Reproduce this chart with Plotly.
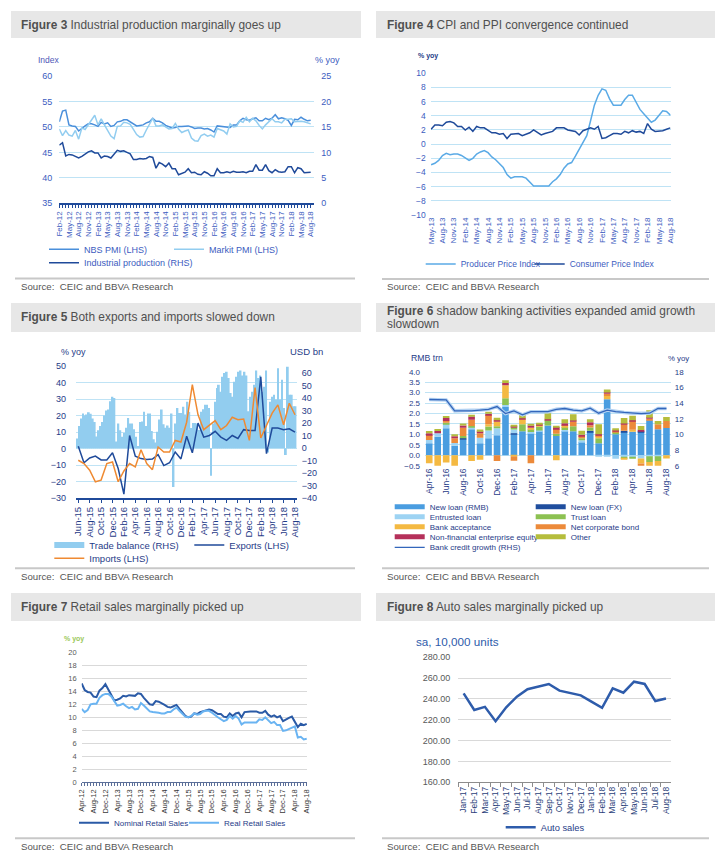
import plotly.graph_objects as go
import pandas as pd

W, H = 728, 862
OFF = 8  # the page body adds an 8px margin; compensate so the photo lines up

# ---------------- data ----------------
F3_MONTHS = pd.date_range('2012-02-01', periods=79, freq='MS').strftime('%b-%y').tolist()
F3_NBS = [51.0, 53.1, 53.3, 50.4, 50.2, 50.1, 49.2, 49.8, 50.2, 50.6, 50.6,
          50.4, 50.1, 50.9, 50.6, 50.8, 50.1, 50.3, 51.0, 51.1, 51.4, 51.4, 51.0,
          50.5, 50.2, 50.3, 50.4, 50.8, 51.0, 51.7, 51.1, 51.1, 50.8, 50.3, 50.1,
          49.8, 49.9, 50.1, 50.1, 50.2, 50.2, 50.0, 49.7, 49.8, 49.8, 49.6, 49.7,
          49.4, 49.0, 50.2, 50.1, 50.1, 50.0, 49.9, 50.4, 50.4, 51.2, 51.7, 51.4,
          51.3, 51.6, 51.8, 51.2, 51.2, 51.7, 51.4, 51.7, 52.4, 51.6, 51.8, 51.6,
          51.3, 50.3, 51.5, 51.4, 51.9, 51.5, 51.2, 51.3]
F3_MARKIT = [49.6, 48.3, 49.3, 48.4, 48.2, 49.3, 47.6, 49.8, 49.5, 50.5, 51.5,
             52.3, 50.4, 51.6, 50.4, 49.2, 48.2, 47.7, 50.1, 50.2, 50.9, 50.8, 50.5,
             49.5, 48.5, 48.0, 48.1, 49.4, 50.7, 51.7, 50.2, 50.2, 50.4, 50.0, 49.6,
             49.7, 50.7, 49.6, 48.9, 49.2, 49.4, 47.8, 47.3, 47.2, 48.3, 48.6, 48.2,
             48.4, 48.0, 49.7, 49.4, 49.2, 48.6, 50.6, 50.0, 50.1, 51.2, 50.9, 51.9,
             51.0, 51.7, 51.2, 50.3, 49.6, 50.4, 51.1, 51.6, 51.0, 51.0, 50.8, 51.5,
             51.5, 51.6, 51.0, 51.1, 51.1, 51.0, 50.8, 50.6]
F3_IP = [11.4, 11.9, 9.3, 9.6, 9.5, 9.2, 8.9, 9.2, 9.6, 10.1, 10.3,
         9.9, 9.9, 8.9, 9.3, 9.2, 8.9, 9.7, 10.4, 10.2, 10.3, 10.0, 9.7,
         8.6, 8.6, 8.8, 8.7, 8.8, 9.2, 9.0, 6.9, 8.0, 7.7, 7.2, 7.9,
         6.8, 6.8, 5.6, 5.9, 6.1, 6.8, 6.0, 6.1, 5.7, 5.6, 6.2, 5.9,
         5.4, 5.4, 6.8, 6.0, 6.0, 6.2, 6.0, 6.3, 6.1, 6.1, 6.2, 6.0,
         6.3, 6.3, 7.6, 6.5, 6.5, 7.6, 6.4, 6.0, 6.6, 6.2, 6.1, 6.2,
         7.2, 7.2, 6.0, 7.0, 6.8, 6.0, 6.0, 6.1]
F3_TICKS = F3_MONTHS[::3]

F4_MONTHS = pd.date_range('2013-05-01', periods=64, freq='MS').strftime('%b-%y').tolist()
F4_PPI = [-2.9, -2.7, -2.3, -1.6, -1.3, -1.5, -1.4, -1.4,
          -1.6, -2.0, -2.3, -2.0, -1.4, -1.1, -0.9, -1.2, -1.8, -2.2, -2.7, -3.3,
          -4.3, -4.8, -4.6, -4.6, -4.6, -4.8, -5.4, -5.9, -5.9, -5.9, -5.9, -5.9,
          -5.3, -4.9, -4.3, -3.4, -2.8, -2.6, -1.7, -0.8, 0.1, 1.2, 3.3, 5.5,
          6.9, 7.8, 7.6, 6.4, 5.5, 5.5, 5.5, 6.3, 6.9, 6.9, 5.8, 4.9,
          4.3, 3.7, 3.1, 3.4, 4.1, 4.7, 4.6, 4.1]
F4_CPI = [2.1, 2.7, 2.7, 2.6, 3.1, 3.2, 3.0, 2.5,
          2.5, 2.0, 2.4, 1.8, 2.5, 2.3, 2.3, 2.0, 1.6, 1.6, 1.4, 1.5,
          0.8, 1.4, 1.4, 1.5, 1.2, 1.4, 1.6, 2.0, 1.6, 1.3, 1.5, 1.6,
          1.8, 2.3, 2.3, 2.3, 2.0, 1.9, 1.8, 1.3, 1.9, 2.1, 2.3, 2.1,
          2.5, 0.8, 0.9, 1.2, 1.5, 1.5, 1.4, 1.8, 1.6, 1.9, 1.7, 1.8,
          1.5, 2.9, 2.1, 1.8, 1.8, 1.9, 2.1, 2.3]
F4_TICKS = F4_MONTHS[::3]

F5_MONTHS = pd.date_range('2015-06-01', periods=39, freq='MS').strftime('%b-%y').tolist()
F5_EXPORTS = [1.5, -8.5, -5.6, -4.5, -6.8, -6.8, -2.5, -12.0, -27.5, 8.0,
              -4.5, -6.0, -6.5, -6.3, -3.6, -10.2, -8.5, -2.0, -6.2, 7.5,
              -2.5, 15.5, 7.0, 8.0, 10.5, 7.0, 5.0, 8.0, 6.2, 11.5,
              11.0, 11.0, 43.5, -3.0, 12.5, 12.5, 11.5, 12.0, 10.0]
F5_IMPORTS = [-7.0, -9.0, -13.0, -20.0, -19.0, -9.0, -8.0, -20.0, -13.5, -9.0,
              -11.0, -0.6, -9.0, -12.7, 1.0, -2.0, -2.0, 5.0, 4.0, 16.0,
              38.7, 20.5, 11.5, 14.5, 17.0, 11.5, 14.0, 19.0, 17.5, 17.9,
              5.0, 37.0, 6.5, 14.0, 21.5, 26.5, 14.5, 27.5, 20.5]
F5_TRADE_BAL = [7.6, 17.6, 23.7, 27.6, 26.0, 26.8, 28.7, 27.4, 23.7, 20.8,
                9.2, 14.2, 17.6, 20.8, 26.0, 30.0, 30.8, 37.4, 41.0, 40.0,
                5.3, 19.7, 14.2, 9.0, 12.0, 16.3, 24.0, 19.7, 19.7, 15.0,
                9.0, 1.8, 20.8, 21.3, 29.0, 17.6, 27.6, 27.6, 13.7, 7.0,
                4.5, 13.0, 22.9, 30.8, 19.0, 16.3, 18.0, 16.3, 27.6, -31.0,
                19.7, 32.0, 28.0, 28.0, 33.0, 26.8, 37.0, 29.0,
                16.0, 20.0, 20.0, 19.7, 14.5, 29.0, 31.0, 34.5, 34.5, 32.0,
                -22.0, 19.7, 37.0, 48.0, 50.5, 45.0, 57.0, 60.0, 61.0, 56.0,
                44.0, 41.0, 53.0, 57.0, 61.0, 62.0, 58.0, 61.0, 58.0, 29.5,
                41.0, 45.0, 50.5, 62.0, 56.0, 58.0, 45.0, 49.0, 62.0, -3.4,
                37.0, 41.0, 42.6, 38.7, 63.7, 38.7, 54.5, 32.0, -5.5, 65.0,
                42.6, 42.6, 33.4, 33.4]
F5_TICKS = F5_MONTHS[::2]

F6_MONTHS = pd.date_range('2016-04-01', periods=29, freq='MS').strftime('%b-%y').tolist()
F6_NEW_LOAN_RMB = [0.57, 0.89, 1.29, 0.45, 0.77, 1.25, 0.57, 0.81, 0.96, 2.31,
                   1.00, 1.15, 1.05, 1.15, 1.43, 0.92, 1.16, 1.15, 0.64, 1.12,
                   0.57, 2.68, 1.00, 1.12, 1.12, 1.12, 1.67, 1.24, 1.30]
F6_NEW_LOAN_FX = [0, 0, 0, 0, 0.05, 0, 0, 0, 0, 0,
                  0.05, 0, 0, 0, 0, 0, 0, 0, 0, 0.05,
                  0, 0, 0, 0.05, 0, 0.04, 0, 0, 0]
F6_ENTRUSTED = [0.16, 0.16, 0.22, 0.14, 0, 0.10, 0.27, 0.38, 0.33, 0.10,
                0.18, 0, 0.06, 0.03, 0, 0, 0.05, 0, 0.08, 0,
                -0.05, -0.05, -0.17, -0.08, -0.10, -0.16, -0.05, -0.05, 0]
F6_TRUST = [0, 0, 0.05, 0, 0.10, 0.05, 0, 0.19, 0.10, 0.32,
            0.10, 0.33, 0.13, 0.20, 0.24, 0.11, 0.14, 0.24, 0.10, 0.16,
            0.24, 0, 0.11, -0.04, -0.06, 0, -0.27, -0.22, 0]
F6_BANK_ACC = [-0.38, -0.51, -0.35, -0.51, 0, -0.27, -0.22, 0.10, 0.22, 0.62,
               -0.06, 0.24, 0.08, 0.06, 0, -0.24, 0.08, 0, 0, 0,
               0.11, 0.16, 0, -0.10, 0.10, -0.24, -0.24, -0.26, -0.15]
F6_CORP_BOND = [0.24, 0, 0.08, 0.22, 0.40, 0.30, 0.21, 0.45, -0.27, 0,
                -0.20, 0, -0.38, 0, 0, 0.24, 0.02, 0.22, 0.11, 0.11,
                0.05, 0.11, 0.03, 0.32, 0.43, -0.11, 0.08, 0.24, 0.34]
F6_EQUITY = [0.08, 0.11, 0.14, 0.10, 0.10, 0.15, 0.10, 0.06, 0.06, 0.11,
             0.08, 0.05, 0.10, 0.03, 0.05, 0.08, 0.08, 0.05, 0.05, 0.14,
             0.03, 0.06, 0.05, 0.03, 0.03, 0.05, 0.05, 0, 0]
F6_OTHER = [0.11, 0.10, 0.10, 0.10, 0.10, 0.07, 0.08, 0.06, 0.13, 0.13,
            0.05, 0.19, 0.06, 0.08, 0.29, 0.05, 0.19, 0.30, 0.19, 0.14,
            0.48, 0.14, 0.10, 0.26, 0.21, 0.19, 0.35, 0.16, 0.19]
F6_CREDIT_GROWTH = [14.45, 14.4, 14.4, 13.0, 13.0, 13.0, 13.1, 13.2, 13.55, 12.65,
                    13.0, 12.5, 12.9, 12.9, 12.9, 13.2, 13.3, 13.1, 13.0, 13.35,
                    12.7, 13.1, 12.9, 12.8, 12.7, 12.65, 12.7, 13.3, 13.3]
F6_TICKS = F6_MONTHS[::2]

F7_MONTHS = pd.date_range('2012-04-01', periods=77, freq='MS').strftime('%b-%y').tolist()
F7_NOMINAL = [15.2, 14.2, 13.9, 13.8, 13.2, 13.1, 14.1, 14.5, 15.1,
              14.2, 13.4, 12.6, 12.7, 12.9, 13.3, 13.2, 13.4, 13.3, 13.3, 13.7, 13.6,
              13.0, 12.5, 12.0, 11.9, 12.5, 12.4, 12.2, 11.9, 11.6, 11.5, 11.7, 11.9,
              11.3, 10.7, 10.2, 10.0, 10.1, 10.6, 10.5, 10.8, 10.9, 11.0, 11.2, 11.1,
              10.8, 10.5, 10.5, 10.1, 10.0, 10.6, 10.2, 10.6, 10.7, 10.0, 10.8, 10.9,
              10.9, 10.9, 10.9, 10.7, 10.7, 11.0, 10.4, 10.1, 10.3, 10.0, 10.2, 9.4,
              9.7, 9.9, 10.1, 9.4, 8.5, 9.0, 8.8, 9.0]
F7_REAL = [11.3, 10.8, 11.1, 12.0, 12.1, 12.1, 13.0, 13.4, 13.6,
           13.6, 13.2, 12.4, 11.8, 11.9, 12.1, 11.7, 11.4, 11.6, 11.2, 11.3, 12.2,
           11.8, 11.4, 10.9, 10.8, 10.8, 10.7, 10.6, 10.6, 10.8, 10.8, 11.2, 11.5,
           11.0, 10.5, 10.1, 10.0, 10.2, 10.6, 10.4, 10.5, 10.9, 11.0, 11.0, 10.7,
           10.3, 10.0, 9.7, 9.4, 9.6, 10.2, 9.8, 10.2, 9.8, 8.9, 9.2, 9.2,
           9.2, 9.2, 9.2, 9.7, 9.6, 10.0, 9.6, 9.1, 9.3, 8.8, 8.8, 7.9,
           8.0, 8.2, 8.5, 8.6, 6.9, 7.0, 6.6, 6.7]
F7_TICKS = F7_MONTHS[::4]

F8_MONTHS = pd.date_range('2017-01-01', periods=20, freq='MS').strftime('%b-%y').tolist()
F8_AUTO = [245.4, 229.4, 232.4, 218.6, 232.0, 242.2, 249.3, 251.8, 254.4, 248.0,
           245.4, 243.5, 237.4, 231.5, 250.2, 246.0, 256.6, 254.4, 238.0, 240.5]

# ---------------- style ----------------
FONT = 'Liberation Sans, Arial, sans-serif'
BLUE_TXT = '#3c5cc0'
NAVY_TXT = '#1f3c88'
GRAY_TXT = '#555555'
DARK = '#1f4a9a'
GRID_BLUE = '#bfe3f5'
GRID_GRAY = '#d9d9d9'


def px_x(a):
    return (a - OFF) / W


def px_y(a):
    return 1 - (a - OFF) / H


def dom_x(a, b):
    return [px_x(a), px_x(b)]


def dom_y(top, bottom):
    return [px_y(bottom), px_y(top)]


def zero_px(top, bottom, lo, hi):
    return bottom - (0 - lo) / (hi - lo) * (bottom - top)


fig = go.Figure()

# ---------- Figure 3 ----------
fig.add_trace(go.Scatter(x=F3_MONTHS, y=F3_NBS, mode='lines', name='NBS PMI (LHS)',
                         line=dict(color='#4a8fdb', width=1.5), xaxis='x', yaxis='y', legend='legend'))
fig.add_trace(go.Scatter(x=F3_MONTHS, y=F3_MARKIT, mode='lines', name='Markit PMI (LHS)',
                         line=dict(color='#92cdf0', width=1.5), xaxis='x', yaxis='y', legend='legend2'))
fig.add_trace(go.Scatter(x=F3_MONTHS, y=F3_IP, mode='lines', name='Industrial production (RHS)',
                         line=dict(color=DARK, width=1.5), xaxis='x', yaxis='y2', legend='legend3'))

# ---------- Figure 4 ----------
fig.add_trace(go.Scatter(x=F4_MONTHS, y=F4_PPI, mode='lines', name='Producer Price Index',
                         line=dict(color='#5aaae6', width=1.5), xaxis='x2', yaxis='y3', legend='legend4'))
fig.add_trace(go.Scatter(x=F4_MONTHS, y=F4_CPI, mode='lines', name='Consumer Price Index',
                         line=dict(color=DARK, width=1.5), xaxis='x2', yaxis='y3', legend='legend5'))

# ---------- Figure 5 ----------
F5_BAR_C = '#92cdef'
fig.add_trace(go.Bar(x=list(range(len(F5_TRADE_BAL))), y=F5_TRADE_BAL, width=0.9,
                     marker=dict(color=F5_BAR_C, line=dict(width=0)), showlegend=False,
                     name='Trade balance (RHS)', xaxis='x4', yaxis='y5'))
fig.add_trace(go.Scatter(x=[None], y=[None], mode='lines', name='Trade balance (RHS)',
                         line=dict(color=F5_BAR_C, width=6), xaxis='x4', yaxis='y5', legend='legend6'))
fig.add_trace(go.Scatter(x=F5_MONTHS, y=F5_EXPORTS, mode='lines', name='Exports (LHS)',
                         line=dict(color=DARK, width=1.5), xaxis='x5', yaxis='y6', legend='legend7'))
fig.add_trace(go.Scatter(x=F5_MONTHS, y=F5_IMPORTS, mode='lines', name='Imports (LHS)',
                         line=dict(color='#ef8a32', width=1.5), xaxis='x5', yaxis='y6', legend='legend8'))

# ---------- Figure 6 ----------
F6_PARTS = [
    ('New loan (RMB)', F6_NEW_LOAN_RMB, '#4a9de0', 'legend9'),
    ('New loan (FX)', F6_NEW_LOAN_FX, '#1f4e9e', 'legend10'),
    ('Entrusted loan', F6_ENTRUSTED, '#9dd3f3', 'legend11'),
    ('Trust loan', F6_TRUST, '#8cc152', 'legend12'),
    ('Bank acceptance', F6_BANK_ACC, '#f4b942', 'legend13'),
    ('Net corporate bond', F6_CORP_BOND, '#ec8a3a', 'legend14'),
    ('Non-financial enterprise equity', F6_EQUITY, '#b5305a', 'legend15'),
    ('Other', F6_OTHER, '#b5bd3c', 'legend16'),
]
for name, vals, col, lg in F6_PARTS:
    fig.add_trace(go.Bar(x=F6_MONTHS, y=vals, width=0.78, name=name, showlegend=False,
                         marker=dict(color=col, line=dict(width=0)), xaxis='x7', yaxis='y8'))
for name, vals, col, lg in F6_PARTS:
    fig.add_trace(go.Scatter(x=[None], y=[None], mode='lines', name=name,
                             line=dict(color=col, width=5), xaxis='x7', yaxis='y8', legend=lg))
fig.add_trace(go.Scatter(x=F6_MONTHS, y=F6_CREDIT_GROWTH, mode='lines', showlegend=False,
                         line=dict(color='#b3d2f2', width=3.5), xaxis='x7', yaxis='y9', hoverinfo='skip'))
fig.add_trace(go.Scatter(x=F6_MONTHS, y=F6_CREDIT_GROWTH, mode='lines', name='Bank credit growth (RHS)',
                         line=dict(color='#3366bb', width=1.3), xaxis='x7', yaxis='y9', legend='legend17'))

# ---------- Figure 7 ----------
fig.add_trace(go.Scatter(x=F7_MONTHS, y=F7_NOMINAL, mode='lines', name='Nominal Retail Sales',
                         line=dict(color='#2a5aa6', width=2), xaxis='x9', yaxis='y11', legend='legend18'))
fig.add_trace(go.Scatter(x=F7_MONTHS, y=F7_REAL, mode='lines', name='Real Retail Sales',
                         line=dict(color='#6ab4f2', width=2), xaxis='x9', yaxis='y11', legend='legend19'))

# ---------- Figure 8 ----------
fig.add_trace(go.Scatter(x=F8_MONTHS, y=F8_AUTO, mode='lines', name='Auto sales',
                         line=dict(color='#2e5cab', width=2.5), xaxis='x10', yaxis='y12', legend='legend20'))


def tf(size, color):
    return dict(family=FONT, size=size, color=color)


def blank_ax(**kw):
    d = dict(showgrid=False, zeroline=False, showline=False, ticks='', showticklabels=False)
    d.update(kw)
    return d


# plot areas (pixels, as in the reference picture)
P3 = (59.3, 314.3, 76, 203.3)
P4 = (430.7, 670.7, 73.3, 215)
P5 = (76, 296.7, 366, 498.3)
P6 = (425, 670.7, 371.7, 465.7)
P7 = (81.7, 307.3, 652.3, 782.3)
P8 = (458.3, 671.3, 657.3, 782.3)

F4_RANGE = [-10, 10]
F5_LRANGE = [-30, 50]
F6_LRANGE = [-0.5, 4.0]
z4 = zero_px(P4[2], P4[3], *F4_RANGE)
z5 = zero_px(P5[2], P5[3], *F5_LRANGE)
z6 = zero_px(P6[2], P6[3], *F6_LRANGE)

layout = dict(
    width=W, height=H, template='none',
    margin=dict(l=0, r=0, t=0, b=0),
    paper_bgcolor='white', plot_bgcolor='rgba(0,0,0,0)',
    font=dict(family=FONT, color=GRAY_TXT),
    barmode='relative',
    showlegend=True,
    # fig 3
    xaxis=dict(domain=dom_x(P3[0], P3[1]), anchor='y', type='category', range=[0, 79.12],
               tickmode='array', tickvals=F3_MONTHS,
               ticktext=[m if m in F3_TICKS else '' for m in F3_MONTHS],
               tickangle=-90, tickfont=tf(8, BLUE_TXT), ticks='outside', ticklen=3,
               tickcolor=DARK, tickwidth=1, showline=True, linecolor=DARK, linewidth=1.5,
               showgrid=False, zeroline=False),
    yaxis=dict(domain=dom_y(P3[2], P3[3]), anchor='x', range=[35, 60], tick0=35, dtick=5,
               showgrid=True, gridcolor=GRID_BLUE, gridwidth=1, zeroline=False, showline=False,
               ticks='', tickfont=tf(9, BLUE_TXT), ticklabelstandoff=6),
    yaxis2=dict(overlaying='y', side='right', anchor='x', range=[0, 25], tick0=0, dtick=5,
                showgrid=False, zeroline=False, showline=False, ticks='',
                tickfont=tf(9, BLUE_TXT), ticklabelstandoff=6),
    # fig 4
    xaxis2=dict(domain=dom_x(P4[0], P4[1]), anchor='y3', type='category', range=[-0.1, 63.1],
                tickmode='array', tickvals=F4_TICKS, tickangle=-90, tickfont=tf(8, BLUE_TXT),
                ticks='', showline=False, showgrid=False, zeroline=False),
    yaxis3=dict(domain=dom_y(P4[2], P4[3]), anchor='x2', range=F4_RANGE, tick0=-10, dtick=2,
                showgrid=True, gridcolor=GRID_BLUE, zeroline=False, showline=False, ticks='',
                tickfont=tf(8.5, BLUE_TXT), ticklabelstandoff=4),
    xaxis3=blank_ax(domain=dom_x(P4[0], P4[1]), anchor='y4', type='linear', range=[-0.1, 63.1],
                    tickmode='linear', tick0=0, dtick=3, ticks='outside', ticklen=4,
                    tickcolor=DARK, tickwidth=1, showline=True, linecolor=DARK, linewidth=1.5),
    yaxis4=blank_ax(domain=dom_y(P4[2], z4), anchor='x3', range=[0, 1]),
    # fig 5
    xaxis4=blank_ax(domain=dom_x(P5[0], P5[1]), anchor='y5', type='linear',
                    range=[-0.5, len(F5_TRADE_BAL) - 0.5]),
    yaxis5=dict(domain=dom_y(P5[2], P5[3]), anchor='x4', side='right', range=[-40, 65.5],
                tick0=-40, dtick=10, showgrid=False, zeroline=False, showline=False, ticks='',
                tickfont=tf(9, NAVY_TXT), ticklabelstandoff=4),
    xaxis5=dict(overlaying='x4', anchor='y5', side='bottom', type='category', range=[-0.4, 38.3],
                tickmode='array', tickvals=F5_TICKS, tickangle=-90, tickfont=tf(9.5, NAVY_TXT),
                ticks='outside', ticklen=3, tickcolor=DARK, showline=True, linecolor=DARK,
                linewidth=1.5, showgrid=False, zeroline=False),
    yaxis6=dict(overlaying='y5', anchor='x4', side='left', range=F5_LRANGE, tick0=-30, dtick=10,
                showgrid=True, gridcolor=GRID_BLUE, zeroline=False, showline=False, ticks='',
                tickfont=tf(9, NAVY_TXT), ticklabelstandoff=9),
    xaxis6=blank_ax(domain=dom_x(P5[0], P5[1]), anchor='y7', type='linear',
                    range=[-0.5, len(F5_TRADE_BAL) - 0.5], tickmode='linear', tick0=-0.5, dtick=1,
                    ticks='outside', ticklen=3, tickcolor=DARK, tickwidth=1,
                    showline=True, linecolor=DARK, linewidth=2),
    yaxis7=blank_ax(domain=dom_y(P5[2], z5), anchor='x6', range=[0, 1]),
    # fig 6
    xaxis7=dict(domain=dom_x(P6[0], P6[1]), anchor='y8', type='category', range=[-0.5, 28.5],
                tickmode='array', tickvals=F6_TICKS, tickangle=-90, tickfont=tf(8.5, NAVY_TXT),
                ticks='', showline=False, showgrid=False, zeroline=False),
    yaxis8=dict(domain=dom_y(P6[2], P6[3]), anchor='x7', range=F6_LRANGE, tick0=-0.5, dtick=0.5,
                tickformat='.1f', showgrid=True, gridcolor=GRID_BLUE, zeroline=False,
                showline=False, ticks='', tickfont=tf(8, NAVY_TXT), ticklabelstandoff=4),
    yaxis9=dict(overlaying='y8', side='right', anchor='x7', range=[6, 18], tick0=6, dtick=2,
                showgrid=False, zeroline=False, showline=False, ticks='',
                tickfont=tf(8, NAVY_TXT), ticklabelstandoff=3),
    xaxis8=blank_ax(domain=dom_x(P6[0], P6[1]), anchor='y10', type='linear', range=[-0.5, 28.5],
                    tickmode='linear', tick0=-0.5, dtick=2, ticks='outside', ticklen=3,
                    tickcolor=DARK, tickwidth=1, showline=True, linecolor=DARK, linewidth=1.5),
    yaxis10=blank_ax(domain=dom_y(P6[2], z6), anchor='x8', range=[0, 1]),
    # fig 7
    xaxis9=dict(domain=dom_x(P7[0], P7[1]), anchor='y11', type='category', range=[0, 76.2],
                tickmode='array', tickvals=F7_MONTHS,
                ticktext=[m if m in F7_TICKS else '' for m in F7_MONTHS],
                tickangle=-90, tickfont=tf(7.5, '#3a3a3a'), ticks='outside', ticklen=3,
                tickcolor='#5b6f99', showline=True, linecolor='#5b6f99', linewidth=1,
                showgrid=False, zeroline=False),
    yaxis11=dict(domain=dom_y(P7[2], P7[3]), anchor='x9', range=[0, 20], tick0=0, dtick=2,
                 showgrid=True, gridcolor=GRID_GRAY, zeroline=False, showline=False, ticks='',
                 tickfont=tf(7.5, '#595959'), ticklabelstandoff=4),
    # fig 8
    xaxis10=dict(domain=dom_x(P8[0], P8[1]), anchor='y12', type='category', range=[-0.5, 19.5],
                 tickmode='array', tickvals=F8_MONTHS, tickson='boundaries', tickangle=-90,
                 tickfont=tf(8.5, '#2a3f7a'), ticks='outside', ticklen=4, tickcolor='#8c8c8c',
                 showline=True, linecolor='#8c8c8c', linewidth=1, showgrid=False, zeroline=False),
    yaxis12=dict(domain=dom_y(P8[2], P8[3]), anchor='x10', range=[160, 280], tick0=160, dtick=20,
                 tickformat='.2f', showgrid=True, gridcolor=GRID_GRAY, zeroline=False,
                 showline=False, ticks='', tickfont=tf(9, '#595959'), ticklabelstandoff=7),
)


def lg(text_x, row_y, size, color):
    return dict(x=px_x(text_x - 40), y=px_y(row_y), xanchor='left', yanchor='middle',
                orientation='h', bgcolor='rgba(0,0,0,0)', borderwidth=0,
                font=dict(family=FONT, size=size, color=color), tracegroupgap=0)


LEGEND_POS = {
    'legend': (84, 249.3, 9, BLUE_TXT), 'legend2': (209, 249.3, 9, BLUE_TXT),
    'legend3': (84, 262.7, 9, BLUE_TXT),
    'legend4': (460.7, 264, 8.5, BLUE_TXT), 'legend5': (569.7, 264, 8.5, BLUE_TXT),
    'legend6': (89.3, 545, 9.5, NAVY_TXT), 'legend7': (229.3, 545, 9.5, NAVY_TXT),
    'legend8': (89.3, 558.3, 9.5, NAVY_TXT),
    'legend9': (429.7, 506.7, 8, NAVY_TXT), 'legend10': (570.7, 506.7, 8, NAVY_TXT),
    'legend11': (429.7, 516.7, 8, NAVY_TXT), 'legend12': (570.7, 516.7, 8, NAVY_TXT),
    'legend13': (429.7, 526.7, 8, NAVY_TXT), 'legend14': (570.7, 526.7, 8, NAVY_TXT),
    'legend15': (429.7, 536.7, 8, NAVY_TXT), 'legend16': (570.7, 536.7, 8, NAVY_TXT),
    'legend17': (429.7, 547.3, 8, NAVY_TXT),
    'legend18': (114, 822.7, 8, NAVY_TXT), 'legend19': (224, 822.7, 8, NAVY_TXT),
    'legend20': (540.7, 827.3, 9.3, NAVY_TXT),
}
for key, (tx, ty, sz, col) in LEGEND_POS.items():
    layout[key] = lg(tx, ty, sz, col)

# ---------- decorations ----------
shapes = []
annotations = []
TITLE_BOXES = [(11, 361, 11, 38), (376, 715, 11, 38),
               (11, 361, 303, 332), (376, 715, 303, 332),
               (11, 361, 593, 621), (376, 715, 593, 621)]
for x0, x1, y0, y1 in TITLE_BOXES:
    shapes.append(dict(type='rect', xref='paper', yref='paper', x0=px_x(x0), x1=px_x(x1),
                       y0=px_y(y1), y1=px_y(y0), fillcolor='#e7e7e7', line=dict(width=0),
                       layer='below'))
SEPARATORS = [(15, 355, 278.5), (382, 709, 279), (15, 355, 568.3), (382, 709, 568.3),
              (15, 355, 838.3), (382, 709, 838.3)]
for x0, x1, y in SEPARATORS:
    shapes.append(dict(type='line', xref='paper', yref='paper', x0=px_x(x0), x1=px_x(x1),
                       y0=px_y(y), y1=px_y(y), line=dict(color='#c8c8c8', width=2)))


def ann(text, x, y, size, color, xanchor='left'):
    annotations.append(dict(text=text, x=px_x(x), y=px_y(y), xref='paper', yref='paper',
                            xanchor=xanchor, yanchor='middle', showarrow=False,
                            font=dict(family=FONT, size=size, color=color)))


TITLE_C = '#505050'
TS = 11.9
ann('<b>Figure 3</b> Industrial production marginally goes up', 19.3, 25, TS, TITLE_C)
ann('<b>Figure 4</b> CPI and PPI convergence continued', 384.7, 25, TS, TITLE_C)
ann('<b>Figure 5</b> Both exports and imports slowed down', 19.3, 317.3, TS, TITLE_C)
ann('<b>Figure 6</b> shadow banking activities expanded amid growth', 384.7, 310.7, TS, TITLE_C)
ann('slowdown', 384.7, 324.3, TS, TITLE_C)
ann('<b>Figure 7</b> Retail sales marginally picked up', 19.3, 606.7, TS, TITLE_C)
ann('<b>Figure 8</b> Auto sales marginally picked up', 384.7, 606.7, TS, TITLE_C)
for x, y in [(19.3, 286.7), (384.7, 286.7), (19.3, 576.7), (384.7, 576.7), (19.3, 846.7), (384.7, 846.7)]:
    ann('Source:\u00a0 CEIC and BBVA Research', x, y, 9.7, '#555555')

ann('Index', 36, 60, 8.5, '#5058b8')
ann('% yoy', 313, 60, 9, BLUE_TXT)
ann('<b>% yoy</b>', 416, 56, 7, NAVY_TXT)
ann('% yoy', 59, 351.7, 9, NAVY_TXT)
ann('USD bn', 288, 351.7, 9.5, NAVY_TXT)
ann('RMB trn', 409, 357.7, 8.7, NAVY_TXT)
ann('% yoy', 665.7, 358, 7.8, NAVY_TXT)
ann('<b>% yoy</b>', 61.7, 639, 7, '#9bc85a')
ann('sa, 10,000 units', 414, 641.7, 11.7, '#2e5cab')

layout['shapes'] = shapes
layout['annotations'] = annotations
fig.update_layout(**layout)
fig.write_html('out.html')
